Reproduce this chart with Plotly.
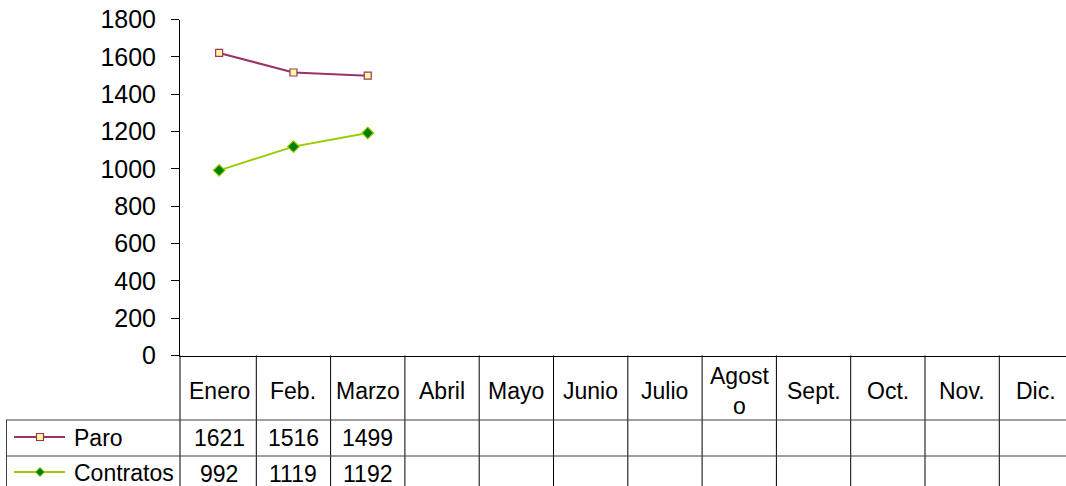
import plotly.graph_objects as go

months = ["Enero", "Feb.", "Marzo", "Abril", "Mayo", "Junio", "Julio",
          "Agost<br>o", "Sept.", "Oct.", "Nov.", "Dic."]
paro = [1621, 1516, 1499]
contratos = [992, 1119, 1192]
y_ticks = [0, 200, 400, 600, 800, 1000, 1200, 1400, 1600, 1800]

W, H = 1066, 486
FONT = "Liberation Sans, Arial, sans-serif"
PARO_C = "#993366"
CONT_C = "#99CC00"
TSIZE = 23


def py(pix):
    return (H - pix) / H


def px(pix):
    return pix / W


plot_left, plot_bottom, plot_top = 180, 355.5, 19.5
cat_w = 74.3
lead = 2.0  # px between the value axis and the first category edge
x_start = -0.5 - lead / cat_w
n_vis = (W - plot_left) / cat_w

fig = go.Figure()
idx = list(range(len(months)))
fig.add_trace(go.Scatter(
    x=idx[:len(paro)], y=paro, mode="lines+markers", name="Paro",
    line=dict(color=PARO_C, width=2),
    marker=dict(symbol="square", size=7, color="#FFFF99",
                line=dict(color=PARO_C, width=1.2)),
    showlegend=False))
fig.add_trace(go.Scatter(
    x=idx[:len(contratos)], y=contratos, mode="lines+markers", name="Contratos",
    line=dict(color=CONT_C, width=2),
    marker=dict(symbol="diamond", size=9, color="#008000",
                line=dict(color=CONT_C, width=1.2)),
    showlegend=False))

shapes = []
ann = []
bot_dom = py(plot_bottom)
row1, row2 = 420, 456
# vertical cell boundaries (the first one is the value axis itself)
shapes.append(dict(type="line", xref="paper", yref="paper", x0=px(plot_left),
                   x1=px(plot_left), y0=0, y1=bot_dom, line=dict(color="black", width=1)))
for k in range(1, len(months) + 1):
    shapes.append(dict(type="line", xref="x", yref="paper", x0=k - 0.5, x1=k - 0.5,
                       y0=0, y1=bot_dom, line=dict(color="black", width=1)))
# horizontal table lines
for r in (row1, row2):
    shapes.append(dict(type="line", xref="paper", yref="paper", x0=px(6), x1=1,
                       y0=py(r), y1=py(r), line=dict(color="#404040", width=1)))
shapes.append(dict(type="line", xref="paper", yref="paper", x0=px(6.5), x1=px(6.5),
                   y0=0, y1=py(row1), line=dict(color="#404040", width=1)))

# header labels
for i, m in enumerate(months):
    ann.append(dict(x=i, y=py(391), xref="x", yref="paper", text=m, showarrow=False,
                    font=dict(family=FONT, size=TSIZE, color="black"),
                    xanchor="center", yanchor="middle"))
# values
for series, yc in ((paro, 438), (contratos, 474)):
    for i, v in enumerate(series):
        ann.append(dict(x=i, y=py(yc), xref="x", yref="paper", text=str(v),
                        showarrow=False, font=dict(family=FONT, size=TSIZE, color="black"),
                        xanchor="center", yanchor="middle"))

# legend keys
for name, yc, color, sym in (("Paro", 437, PARO_C, "sq"), ("Contratos", 472, CONT_C, "di")):
    shapes.append(dict(type="line", xref="paper", yref="paper", x0=px(14), x1=px(65),
                       y0=py(yc), y1=py(yc), line=dict(color=color, width=2)))
    if sym == "sq":
        shapes.append(dict(type="rect", xref="paper", yref="paper",
                           x0=px(36.5), x1=px(43.5), y0=py(yc + 3.5), y1=py(yc - 3.5),
                           fillcolor="#FFFF99", line=dict(color=PARO_C, width=1.2)))
    else:
        cx, r = 40, 4.5
        path = (f"M {px(cx)} {py(yc - r)} L {px(cx + r)} {py(yc)} "
                f"L {px(cx)} {py(yc + r)} L {px(cx - r)} {py(yc)} Z")
        shapes.append(dict(type="path", xref="paper", yref="paper", path=path,
                           fillcolor="#008000", line=dict(color=CONT_C, width=1)))
    ann.append(dict(x=px(72), y=py(yc + 1), xref="paper", yref="paper", text=name,
                    showarrow=False, font=dict(family=FONT, size=TSIZE, color="black"),
                    xanchor="left", yanchor="middle"))

fig.update_layout(
    width=W, height=H, margin=dict(l=0, r=0, t=0, b=0, autoexpand=False),
    paper_bgcolor="white", plot_bgcolor="white",
    shapes=shapes, annotations=ann,
    xaxis=dict(domain=[px(plot_left), 1], range=[x_start, x_start + n_vis],
               showticklabels=False, ticks="", showgrid=False, zeroline=False,
               showline=True, linecolor="black", linewidth=1, fixedrange=True,
               automargin=False),
    yaxis=dict(domain=[py(plot_bottom), py(plot_top)], range=[0, 1800],
               tickvals=y_ticks, ticktext=[str(t) for t in y_ticks],
               ticks="outside", ticklen=8, tickcolor="black", tickwidth=1,
               ticklabelstandoff=10,
               tickfont=dict(family=FONT, size=25, color="black"),
               showgrid=False, zeroline=False, showline=True, linecolor="black",
               linewidth=1, fixedrange=True, automargin=False),
)
fig.write_html("out.html", config={"displayModeBar": False},
               post_script="document.body.style.margin='0';document.body.style.overflow='hidden';")
